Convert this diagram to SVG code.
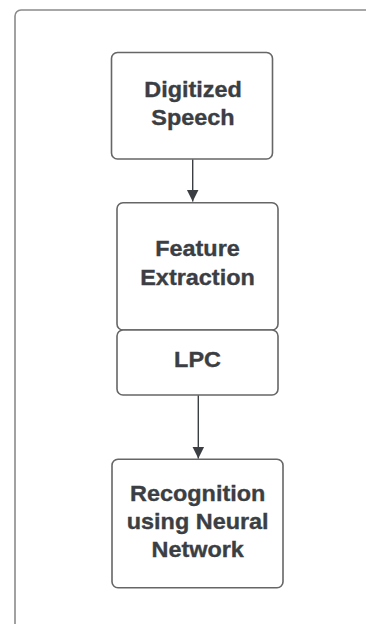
<svg xmlns="http://www.w3.org/2000/svg" width="366" height="624" viewBox="0 0 366 624">
<defs>
<style>
.box{fill:#fff;stroke:#666;stroke-width:1.6}
.frame{fill:#fff;stroke:#8a8a8a;stroke-width:1.6}
.t{font-family:"Liberation Sans",Arial,sans-serif;font-weight:bold;font-size:21.5px;fill:#3b3e43;stroke:#3b3e43;stroke-width:0.35;text-anchor:middle}
.edge{stroke:#3b3e43;stroke-width:1.4;fill:none}
</style>
<marker id="ah" viewBox="0 0 12 16" refX="12" refY="8" markerWidth="12" markerHeight="16" markerUnits="userSpaceOnUse" orient="auto">
<path d="M0,2 L12,8 L0,14 Z" fill="#3b3e43"/>
</marker>
</defs>
<rect width="366" height="624" fill="#fff"/>
<rect class="frame" x="15" y="10" width="370" height="640" rx="6"/>
<g id="n1">
<rect class="box" x="111.5" y="52.5" width="161" height="106.5" rx="6"/>
<g transform="translate(193 0) scale(1.09 1)"><text class="t" x="0" y="96.8">Digitized</text><text class="t" x="0" y="125">Speech</text></g>
</g>
<g id="n2">
<rect class="box" x="117" y="202.7" width="161" height="127.3" rx="6"/>
<g transform="translate(197.5 0) scale(1.09 1)"><text class="t" x="0" y="256.3">Feature</text><text class="t" x="0" y="285.3">Extraction</text></g>
</g>
<g id="n3">
<rect class="box" x="117" y="330" width="161" height="65" rx="6"/>
<g transform="translate(197.5 0) scale(1.09 1)"><text class="t" x="0" y="366.7">LPC</text></g>
</g>
<g id="n4">
<rect class="box" x="112" y="459.3" width="171" height="128.4" rx="6"/>
<g transform="translate(197.7 0) scale(1.09 1)"><text class="t" x="0" y="500.7">Recognition</text><text class="t" x="0" y="529.3">using Neural</text><text class="t" x="0" y="557.3">Network</text></g>
</g>
<g id="edges">
<path class="edge" d="M192.7,159.5 V201.5" marker-end="url(#ah)"/>
<path class="edge" d="M198.3,395.5 V458.5" marker-end="url(#ah)"/>
</g>
</svg>
